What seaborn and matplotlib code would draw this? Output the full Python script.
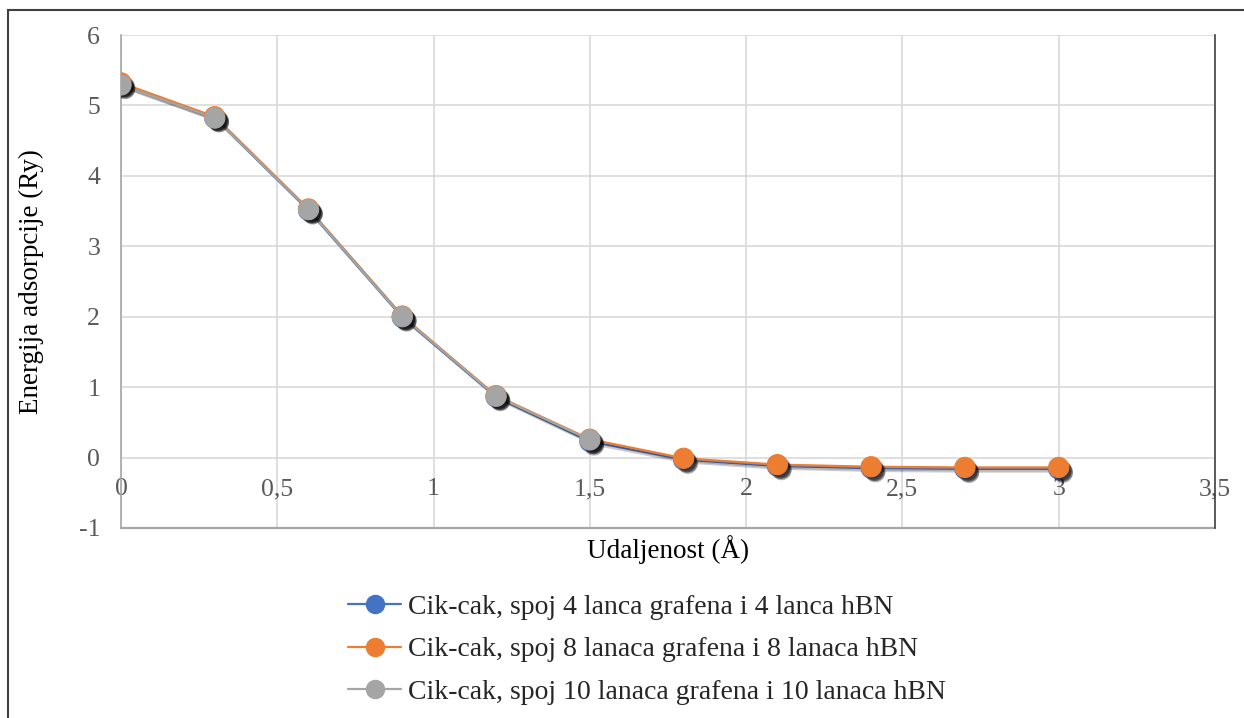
import numpy as np
import pandas as pd
import matplotlib
matplotlib.use("Agg")
import matplotlib.pyplot as plt
import matplotlib.patheffects as pe
from matplotlib.lines import Line2D
from matplotlib.patches import Rectangle
import seaborn as sns

# data
udaljenost = [0, 0.3, 0.6, 0.9, 1.2, 1.5, 1.8, 2.1, 2.4, 2.7, 3.0]
energija_4 = [5.30, 4.82, 3.51, 1.99, 0.86, 0.23, -0.03, -0.12, -0.15, -0.16, -0.16]
energija_8 = [5.32, 4.84, 3.53, 2.01, 0.88, 0.26, -0.01, -0.10, -0.13, -0.14, -0.14]
energija_10 = [5.29, 4.82, 3.52, 2.00, 0.87, 0.25]

labels = ["Cik-cak, spoj 4 lanca grafena i 4 lanca hBN",
          "Cik-cak, spoj 8 lanaca grafena i 8 lanaca hBN",
          "Cik-cak, spoj 10 lanaca grafena i 10 lanaca hBN"]
colors = ["#4472C4", "#ED7D31", "#A5A5A5"]

x_ticks = [0, 0.5, 1, 1.5, 2, 2.5, 3, 3.5]
x_tick_labels = ["0", "0,5", "1", "1,5", "2", "2,5", "3", "3,5"]
y_ticks = [-1, 0, 1, 2, 3, 4, 5, 6]

sns.set_style("white")
plt.rcParams["font.family"] = ["Liberation Serif", "DejaVu Serif"]
plt.rcParams["axes.unicode_minus"] = False

fig = plt.figure(figsize=(12.44, 7.18), dpi=100)
ax = fig.add_axes([121 / 1244, 1 - 528 / 718, 1094 / 1244, 493 / 718])

series = [energija_4, energija_8, energija_10]
for i, (vals, lab, col) in enumerate(zip(series, labels, colors)):
    df = pd.DataFrame({"x": udaljenost[:len(vals)], "y": vals})
    sns.lineplot(data=df, x="x", y="y", color=col, linewidth=1.6, ax=ax,
                 zorder=3 + i * 0.1,
                 path_effects=[pe.SimpleLineShadow(offset=(2, -2), alpha=0.2, shadow_color="k"),
                               pe.Normal()])
    sc = sns.scatterplot(data=df, x="x", y="y", color=col, s=210, edgecolor=col,
                         linewidth=0.8, ax=ax, zorder=5 + i)
    sc.collections[-1].set_path_effects([
        pe.SimplePatchShadow(offset=(3, -3), shadow_rgbFace="k", alpha=0.3),
        pe.SimplePatchShadow(offset=(2, -2), shadow_rgbFace="k", alpha=0.3),
        pe.Normal()])

ax.set_xlim(0, 3.5)
ax.set_ylim(-1, 6)
ax.set_xticks(x_ticks)
ax.set_xticklabels(x_tick_labels)
ax.set_yticks(y_ticks)
ax.grid(True, color="#d9d9d9", linewidth=1.2)
ax.set_axisbelow(True)

ax.spines["bottom"].set_position(("data", 0))
ax.spines["bottom"].set_visible(False)
ax.spines["top"].set_visible(False)
ax.spines["left"].set_color("#a6a6a6")
ax.spines["left"].set_linewidth(1.2)
ax.spines["right"].set_color("#404040")
ax.spines["right"].set_linewidth(1.2)
ax.axhline(-1, color="#a6a6a6", linewidth=1.6, zorder=2, clip_on=False)

ax.tick_params(axis="both", length=0, labelsize=18.5, labelcolor="#595959", pad=15)

ax.set_xlabel("Udaljenost (Å)", fontsize=19.5, color="black")
ax.set_ylabel("Energija adsorpcije (Ry)", fontsize=19.5, color="black")
ax.xaxis.set_label_coords(0.5, -0.014)
ax.yaxis.set_label_coords(-0.07, 0.5)

handles = [Line2D([0], [0], color=c, linewidth=1.6, marker="o", markersize=13,
                  markerfacecolor=c, markeredgecolor=c) for c in colors]
fig.legend(handles, labels, loc="upper left", bbox_to_anchor=(337 / 1244, 1 - 583 / 718),
           frameon=False, fontsize=20, handlelength=1.9, handletextpad=0.25,
           labelspacing=0.62, borderaxespad=0)

fig.patches.append(Rectangle((8 / 1244, -0.1), 1.2, 1.1 - 10 / 718, transform=fig.transFigure,
                             fill=False, edgecolor="#404040", linewidth=1.5))

fig.savefig("out.png", dpi=100)
